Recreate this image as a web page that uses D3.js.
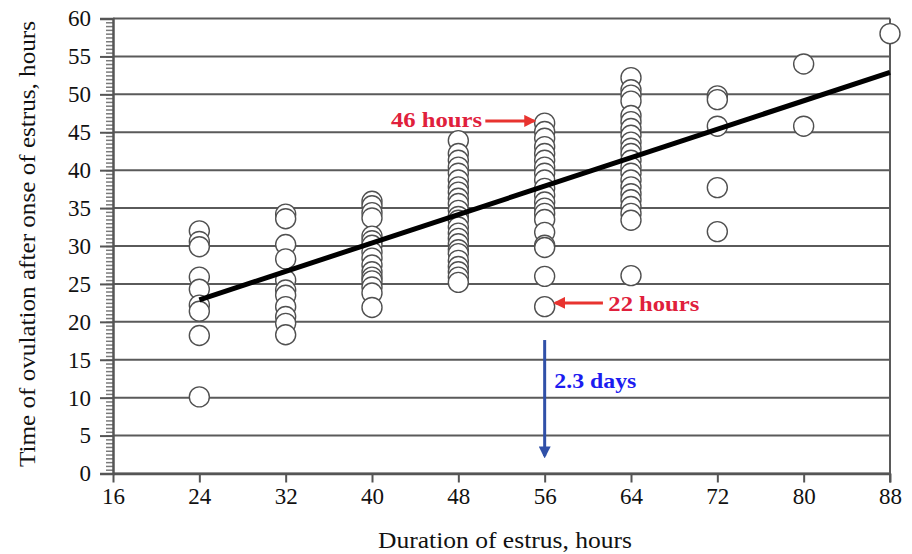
<!DOCTYPE html>
<html>
<head>
    <title>Estrus duration vs ovulation time</title>
    <script src="https://cdn.jsdelivr.net/npm/d3@7"></script>
    <style>
        body { margin: 0; background: #fff; }
        svg text { font-family: "Liberation Serif", "DejaVu Serif", serif; }
    </style>
</head>
<body>
<svg id="chart"></svg>

<script>
// duration of estrus columns (hours) and the ovulation times read in each column
var durations = [24, 32, 40, 48, 56, 64, 72, 80, 88];
var ovul24 = [32, 30.6, 29.9, 25.9, 24.3, 22.2, 21.4, 18.2, 10.1];
var ovul32 = [34.2, 33.6, 30.2, 28.3, 25.5, 24.2, 23.5, 22, 20.7, 19.8, 18.3];
var ovul40 = [35.9, 35.3, 34.4, 33.7, 31.3, 30.7, 30.1, 29.2, 28.4, 27.5, 26.6, 25.9, 25.4, 24.6, 23.8, 21.9];
var ovul48 = [43.9, 42.2, 41.3, 40.4, 39.6, 38.7, 37.8, 37.1, 36.3, 35.6, 34.7, 33.9, 33.4, 32.5, 31.7, 31, 30.3, 29.5, 29, 28.1, 27.3, 26.6, 25.9, 25.2];
var ovul56 = [46.2, 45.1, 44.2, 43.1, 42.2, 41.3, 40.4, 39.6, 38.7, 37.6, 36.7, 35.8, 35, 34.3, 33.5, 31.8, 30.1, 29.8, 26, 22];
var ovul64 = [52.2, 50.6, 49.9, 49.1, 47.2, 46.4, 45.5, 44.6, 43.7, 42.9, 42.2, 41.3, 40.4, 39.6, 38.7, 37.8, 36.9, 36.1, 35.2, 34.3, 33.4, 26.1];
var ovul72 = [49.8, 49.3, 45.8, 37.7, 31.9];
var ovul80 = [54, 45.8];
var ovul88 = [58];
var ovulByDuration = [ovul24, ovul32, ovul40, ovul48, ovul56, ovul64, ovul72, ovul80, ovul88];

// fitted line end points
var trendX = [24, 88];
var trendY = [22.9, 52.9];

var xTicks = [16, 24, 32, 40, 48, 56, 64, 72, 80, 88];
var yTicks = [0, 5, 10, 15, 20, 25, 30, 35, 40, 45, 50, 55, 60];

var width = 912, height = 554;
var margin = { top: 18.5, right: 22, bottom: 80.5, left: 113 };

var svg = d3.select("#chart").attr("width", width).attr("height", height);

var x = d3.scaleLinear().domain([16, 88]).range([margin.left, width - margin.right]);
var y = d3.scaleLinear().domain([0, 60]).range([height - margin.bottom, margin.top]);

var points = [];
durations.forEach(function (d, i) {
  ovulByDuration[i].forEach(function (v) {
    points.push({ dur: d, ovul: v });
  });
});

// horizontal grid lines
svg.append("g")
  .selectAll("line")
  .data(yTicks)
  .enter()
  .append("line")
  .attr("x1", x(16))
  .attr("x2", x(88))
  .attr("y1", function (d) { return y(d); })
  .attr("y2", function (d) { return y(d); })
  .attr("stroke", "#5a5a5a")
  .attr("stroke-width", 2);

// right border
svg.append("line")
  .attr("x1", x(88)).attr("x2", x(88))
  .attr("y1", y(60)).attr("y2", y(0) + 9)
  .attr("stroke", "#5a5a5a")
  .attr("stroke-width", 2);

// y axis with minor ticks every half hour
var yMinor = d3.axisLeft(y).ticks(120).tickSize(7).tickFormat("");
svg.append("g")
  .attr("transform", "translate(" + margin.left + ",0)")
  .call(yMinor)
  .call(function (g) {
    g.select(".domain").remove();
    g.selectAll("line").attr("stroke", "#7a7a7a").attr("stroke-width", 1.5);
  });

var yAxis = d3.axisLeft(y).tickValues(yTicks).tickSize(13).tickPadding(9);
svg.append("g")
  .attr("transform", "translate(" + margin.left + ",0)")
  .call(yAxis)
  .call(function (g) {
    g.select(".domain").attr("stroke", "#555").attr("stroke-width", 2.5);
    g.selectAll("line").attr("stroke", "#555").attr("stroke-width", 2);
    g.selectAll("text")
      .attr("fill", "#111")
      .style("font-size", "23px")
      .style("font-family", "'Liberation Serif', serif");
  });

// x axis
var xAxis = d3.axisBottom(x).tickValues(xTicks).tickSize(9).tickPadding(5).tickSizeOuter(0);
svg.append("g")
  .attr("transform", "translate(0," + y(0) + ")")
  .call(xAxis)
  .call(function (g) {
    g.select(".domain").attr("stroke", "#555").attr("stroke-width", 2.5);
    g.selectAll("line").attr("stroke", "#555").attr("stroke-width", 2);
    g.selectAll("text")
      .attr("fill", "#111")
      .style("font-size", "23px")
      .style("font-family", "'Liberation Serif', serif");
  });

// data circles
svg.append("g")
  .selectAll("circle")
  .data(points)
  .enter()
  .append("circle")
  .attr("cx", function (d) { return x(d.dur); })
  .attr("cy", function (d) { return y(d.ovul); })
  .attr("r", 10)
  .attr("fill", "#fff")
  .attr("stroke", "#505050")
  .attr("stroke-width", 1.4);

// regression line
svg.append("line")
  .attr("x1", x(trendX[0])).attr("y1", y(trendY[0]))
  .attr("x2", x(trendX[1])).attr("y2", y(trendY[1]))
  .attr("stroke", "#000")
  .attr("stroke-width", 5);

// arrow heads
var defs = svg.append("defs");
function addMarker(id, color) {
  defs.append("marker")
    .attr("id", id)
    .attr("viewBox", "0 0 10 10")
    .attr("refX", 8).attr("refY", 5)
    .attr("markerWidth", 4).attr("markerHeight", 4)
    .attr("orient", "auto")
    .append("path")
    .attr("d", "M0,0 L10,5 L0,10 z")
    .attr("fill", color);
}
addMarker("redHead", "#e8332f");
addMarker("blueHead", "#3050a8");

// annotations
svg.append("line")
  .attr("x1", x(50.5)).attr("y1", y(46.5))
  .attr("x2", x(55)).attr("y2", y(46.5))
  .attr("stroke", "#e8332f").attr("stroke-width", 3)
  .attr("marker-end", "url(#redHead)");
svg.append("text")
  .attr("x", x(50.2)).attr("y", y(46.5) + 6)
  .attr("text-anchor", "end")
  .attr("fill", "#e0203c")
  .attr("textLength", 91)
  .attr("lengthAdjust", "spacingAndGlyphs")
  .style("font-size", "22px")
  .style("font-weight", "bold")
  .text("46 hours");

svg.append("line")
  .attr("x1", x(61.4)).attr("y1", y(22.5))
  .attr("x2", x(57)).attr("y2", y(22.5))
  .attr("stroke", "#e8332f").attr("stroke-width", 3)
  .attr("marker-end", "url(#redHead)");
svg.append("text")
  .attr("x", x(61.9)).attr("y", y(22.5) + 8)
  .attr("fill", "#e0203c")
  .attr("textLength", 91)
  .attr("lengthAdjust", "spacingAndGlyphs")
  .style("font-size", "22px")
  .style("font-weight", "bold")
  .text("22 hours");

svg.append("line")
  .attr("x1", x(56)).attr("y1", y(17.6))
  .attr("x2", x(56)).attr("y2", y(2.3))
  .attr("stroke", "#3050a8").attr("stroke-width", 3)
  .attr("marker-end", "url(#blueHead)");
svg.append("text")
  .attr("x", x(56.9)).attr("y", y(11.3))
  .attr("fill", "#1c1cf0")
  .attr("textLength", 82)
  .attr("lengthAdjust", "spacingAndGlyphs")
  .style("font-size", "22px")
  .style("font-weight", "bold")
  .text("2.3 days");

// axis titles
svg.append("text")
  .attr("x", 505)
  .attr("y", 548)
  .attr("text-anchor", "middle")
  .attr("fill", "#111")
  .attr("textLength", 254)
  .attr("lengthAdjust", "spacingAndGlyphs")
  .style("font-size", "23px")
  .text("Duration of estrus, hours");

svg.append("text")
  .attr("transform", "translate(35," + 244 + ") rotate(-90)")
  .attr("text-anchor", "middle")
  .attr("fill", "#111")
  .attr("textLength", 446)
  .attr("lengthAdjust", "spacingAndGlyphs")
  .style("font-size", "23px")
  .text("Time of ovulation after onse of estrus, hours");
</script>
</body>
</html>
